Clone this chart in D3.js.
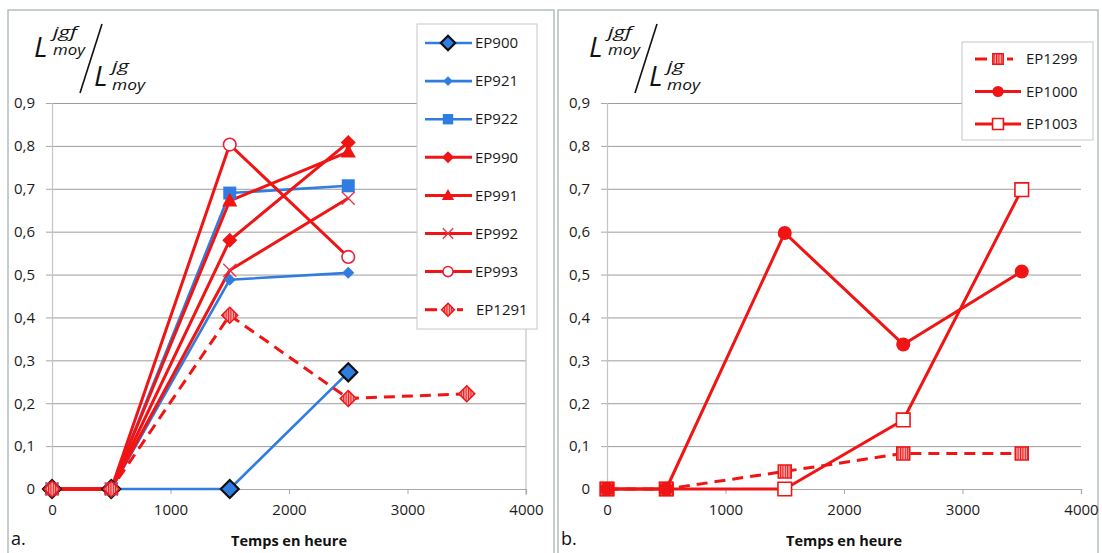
<!DOCTYPE html>
<html><head><meta charset="utf-8">
<script src="https://cdn.jsdelivr.net/npm/d3@7"></script>
<style>
html,body{margin:0;padding:0;background:#fff;}
svg{display:block;}
text{font-family:"Open Sans","Noto Sans",sans-serif;}
</style></head>
<body>
<svg id="chart" width="1102" height="553"></svg>
<script>
// ---------- DATA ----------
const hours = [0, 500, 1500, 2500, 3500];
const xTicks = [0, 1000, 2000, 3000, 4000];
const yTicks = [0, 0.1, 0.2, 0.3, 0.4, 0.5, 0.6, 0.7, 0.8, 0.9];

const namesA = ["EP900", "EP921", "EP922", "EP990", "EP991", "EP992", "EP993", "EP1291"];
const EP900  = [0, 0, 0, 0.272];
const EP921  = [0, 0, 0.488, 0.504];
const EP922  = [0, 0, 0.690, 0.707];
const EP990  = [0, 0, 0.580, 0.808];
const EP991  = [0, 0, 0.672, 0.786];
const EP992  = [0, 0, 0.510, 0.678];
const EP993  = [0, 0, 0.803, 0.541];
const EP1291 = [0, 0, 0.405, 0.211, 0.222];

const namesB = ["EP1299", "EP1000", "EP1003"];
const EP1299 = [0, 0, 0.041, 0.083, 0.083];
const EP1000 = [0, 0, 0.597, 0.337, 0.507];
const EP1003 = [0, 0, 0, 0.161, 0.698];

const xTitle = "Temps en heure";

// ---------- STYLE ----------
const BLUE = "#2f7de1", RED = "#f01414";
const seriesA = [
  {name:"EP900", vals:EP900, color:BLUE, marker:"diamondBig", dash:null, w:2.6},
  {name:"EP921", vals:EP921, color:BLUE, marker:"diamondSmall", dash:null, w:2.6},
  {name:"EP922", vals:EP922, color:BLUE, marker:"square", dash:null, w:2.6},
  {name:"EP990", vals:EP990, color:RED, marker:"diamond", dash:null, w:3},
  {name:"EP991", vals:EP991, color:RED, marker:"triangle", dash:null, w:3},
  {name:"EP992", vals:EP992, color:RED, marker:"cross", dash:null, w:3},
  {name:"EP993", vals:EP993, color:RED, marker:"openCircle", dash:null, w:3},
  {name:"EP1291", vals:EP1291, color:RED, marker:"patDiamond", dash:"11,7", w:3}
];
const seriesB = [
  {name:"EP1299", vals:EP1299, color:RED, marker:"patSquare", dash:"11,7", w:3},
  {name:"EP1000", vals:EP1000, color:RED, marker:"dot", dash:null, w:3},
  {name:"EP1003", vals:EP1003, color:RED, marker:"openSquare", dash:null, w:3}
];
// order in which the markers are stacked (bottom first)
const markerOrderA = [0,1,2,3,4,5,6,7];
const markerOrderB = [2,0,1];

const svg = d3.select("#chart");
const defs = svg.append("defs");
const pat = defs.append("pattern").attr("id","stripes").attr("patternUnits","userSpaceOnUse")
  .attr("width",2.4).attr("height",4);
pat.append("rect").attr("width",2.4).attr("height",4).attr("fill","#f7b0b0");
pat.append("rect").attr("width",1.1).attr("height",4).attr("fill",RED);

function marker(g, type, cx, cy, color, s) {
  s = s || 1;
  const d = (h)=>`M${cx},${cy-h}L${cx+h},${cy}L${cx},${cy+h}L${cx-h},${cy}Z`;
  const sq = (h)=>`M${cx-h},${cy-h}H${cx+h}V${cy+h}H${cx-h}Z`;
  switch(type){
    case "diamondBig": g.append("path").attr("d",d(9*s)).attr("fill",BLUE).attr("stroke","#111").attr("stroke-width",2.2); break;
    case "diamondSmall": g.append("path").attr("d",d(6*s)).attr("fill",color); break;
    case "square": g.append("path").attr("d",sq(6.5*s)).attr("fill",color); break;
    case "diamond": g.append("path").attr("d",d(7.5*s)).attr("fill",color); break;
    case "triangle": { const h=8*s; g.append("path").attr("d",`M${cx},${cy-h}L${cx+h*0.95},${cy+h*0.7}L${cx-h*0.95},${cy+h*0.7}Z`).attr("fill",color); break; }
    case "cross": { const h=6.5*s; g.append("path").attr("d",`M${cx-h},${cy-h}L${cx+h},${cy+h}M${cx-h},${cy+h}L${cx+h},${cy-h}`).attr("stroke","#e8344a").attr("stroke-width",1.4).attr("fill","none"); break; }
    case "openCircle": g.append("circle").attr("cx",cx).attr("cy",cy).attr("r",6.3*s).attr("fill","#fff").attr("stroke","#e8203a").attr("stroke-width",1.6); break;
    case "patDiamond": g.append("path").attr("d",d(8*s)).attr("fill","url(#stripes)").attr("stroke",RED).attr("stroke-width",1.5); break;
    case "patSquare": g.append("path").attr("d",sq(6.5*s)).attr("fill","url(#stripes)").attr("stroke",RED).attr("stroke-width",1.5); break;
    case "dot": g.append("circle").attr("cx",cx).attr("cy",cy).attr("r",7*s).attr("fill",color); break;
    case "openSquare": g.append("path").attr("d",sq(6.8*s)).attr("fill","#fff").attr("stroke",RED).attr("stroke-width",1.6); break;
  }
}

const fmt = v => v === 0 ? "0" : d3.format(".1f")(v).replace(".", ",");

function panel(opts) {
  const {bx, bw, x0, x1, series, order, legend, letter, showRightLine} = opts;
  const g = svg.append("g");
  // panel frame
  g.append("rect").attr("x",bx).attr("y",10).attr("width",bw).attr("height",560)
    .attr("fill","#fff").attr("stroke","#b3bfbc").attr("stroke-width",1.5);
  const x = d3.scaleLinear().domain([0,4000]).range([x0,x1]);
  const y = d3.scaleLinear().domain([0,0.9]).range([489,103]);

  // gridlines
  g.append("g").attr("transform",`translate(${x0},0)`)
    .call(d3.axisLeft(y).tickValues(yTicks.slice(1)).tickSize(-(x1-x0)).tickFormat(""))
    .call(a=>a.select(".domain").remove())
    .call(a=>a.selectAll("line").attr("stroke","#9c9c9c").attr("stroke-width",1));
  if (showRightLine) {
    g.append("line").attr("x1",x(4000)).attr("x2",x(4000)).attr("y1",y(0.9)).attr("y2",y(0)+6)
      .attr("stroke","#c4c4c4").attr("stroke-width",1.2);
  }
  // y axis
  g.append("g").attr("transform",`translate(${x0},0)`)
    .call(d3.axisLeft(y).tickValues(yTicks).tickSize(6).tickPadding(11).tickFormat(fmt))
    .call(a=>a.select(".domain").attr("stroke","#c4c4c4").attr("stroke-width",1.2))
    .call(a=>a.selectAll("line").attr("stroke","#a8a8a8"))
    .call(a=>a.selectAll("text").attr("font-size",15).attr("fill","#1a1a1a").attr("font-family","Open Sans"));
  // x axis
  g.append("g").attr("transform",`translate(0,${y(0)})`)
    .call(d3.axisBottom(x).tickValues(xTicks).tickSize(5).tickPadding(10).tickFormat(d3.format("d")))
    .call(a=>a.select(".domain").attr("stroke","#a8a8a8").attr("stroke-width",1.2))
    .call(a=>a.selectAll("line").attr("stroke","#a8a8a8"))
    .call(a=>a.selectAll("text").attr("font-size",15).attr("fill","#1a1a1a").attr("font-family","Open Sans"));

  // series
  const line = d3.line().x((d,i)=>x(hours[i])).y(d=>y(d));
  series.forEach(s=>{
    g.append("path").datum(s.vals).attr("d",line).attr("fill","none")
      .attr("stroke",s.color).attr("stroke-width",s.w).attr("stroke-linejoin","round")
      .attr("stroke-dasharray",s.dash);
  });
  order.forEach(k=>{
    const s = series[k];
    const sg = g.append("g");
    s.vals.forEach((v,i)=>marker(sg,s.marker,x(hours[i]),y(v),s.color));
  });

  // legend
  const L = legend;
  const lg = g.append("g");
  lg.append("rect").attr("x",L.x).attr("y",L.y).attr("width",L.w).attr("height",L.h)
    .attr("fill","#fff").attr("stroke","#c8c8c8").attr("stroke-width",1);
  series.forEach((s,i)=>{
    const cy = L.y0 + i*L.step;
    if (s.dash) {
      lg.append("line").attr("x1",L.lx0).attr("x2",L.lx0+12).attr("y1",cy).attr("y2",cy).attr("stroke",s.color).attr("stroke-width",s.w);
      lg.append("line").attr("x1",L.mx+9).attr("x2",L.mx+15).attr("y1",cy).attr("y2",cy).attr("stroke",s.color).attr("stroke-width",s.w);
    } else {
      lg.append("line").attr("x1",L.lx0).attr("x2",L.lx1).attr("y1",cy).attr("y2",cy).attr("stroke",s.color).attr("stroke-width",s.w);
    }
    marker(lg,s.marker,L.mx,cy,s.color,0.8);
    lg.append("text").attr("x",L.tx + (s.dash ? L.dashShift : 0)).attr("y",cy).attr("dy","0.35em")
      .attr("font-size",15).attr("fill","#1a1a1a").text(s.name);
  });

  // x title
  g.append("text").attr("x",(x0+x1)/2).attr("y",546).attr("text-anchor","middle")
    .attr("font-size",14.5).attr("font-weight","bold").attr("fill","#111").text(xTitle);
  g.append("text").attr("x",bx+3).attr("y",545).attr("font-size",18).attr("fill","#111").text(letter);

  // y title (math)
  const m = g.append("g").attr("font-family","DejaVu Serif").attr("font-style","italic").attr("fill","#111");
  const ax = x0;
  m.append("text").attr("x",ax-18).attr("y",57).attr("font-size",28).text("L");
  m.append("text").attr("x",ax+1).attr("y",37).attr("font-size",15).attr("textLength",24).attr("lengthAdjust","spacingAndGlyphs").text("jgf");
  m.append("text").attr("x",ax+1).attr("y",55).attr("font-size",15).attr("textLength",32).attr("lengthAdjust","spacingAndGlyphs").text("moy");
  m.append("line").attr("x1",ax+50).attr("y1",24).attr("x2",ax+28).attr("y2",93).attr("stroke","#111").attr("stroke-width",1.6);
  m.append("text").attr("x",ax+42).attr("y",86).attr("font-size",28).text("L");
  m.append("text").attr("x",ax+60).attr("y",71).attr("font-size",15).attr("textLength",17).attr("lengthAdjust","spacingAndGlyphs").text("jg");
  m.append("text").attr("x",ax+60).attr("y",90).attr("font-size",15).attr("textLength",33).attr("lengthAdjust","spacingAndGlyphs").text("moy");
}

panel({bx:8, bw:546, x0:52, x1:526, series:seriesA, order:markerOrderA, letter:"a.", showRightLine:true,
  legend:{x:417, y:24, w:120, h:305, y0:43, step:38.1, lx0:425, lx1:472, mx:448, tx:475, dashShift:1}});
panel({bx:558, bw:540, x0:607, x1:1081, series:seriesB, order:markerOrderB, letter:"b.", showRightLine:false,
  legend:{x:962, y:42, w:131, h:98, y0:59, step:32.5, lx0:975, lx1:1021, mx:998, tx:1026, dashShift:0}});
</script>
</body></html>
